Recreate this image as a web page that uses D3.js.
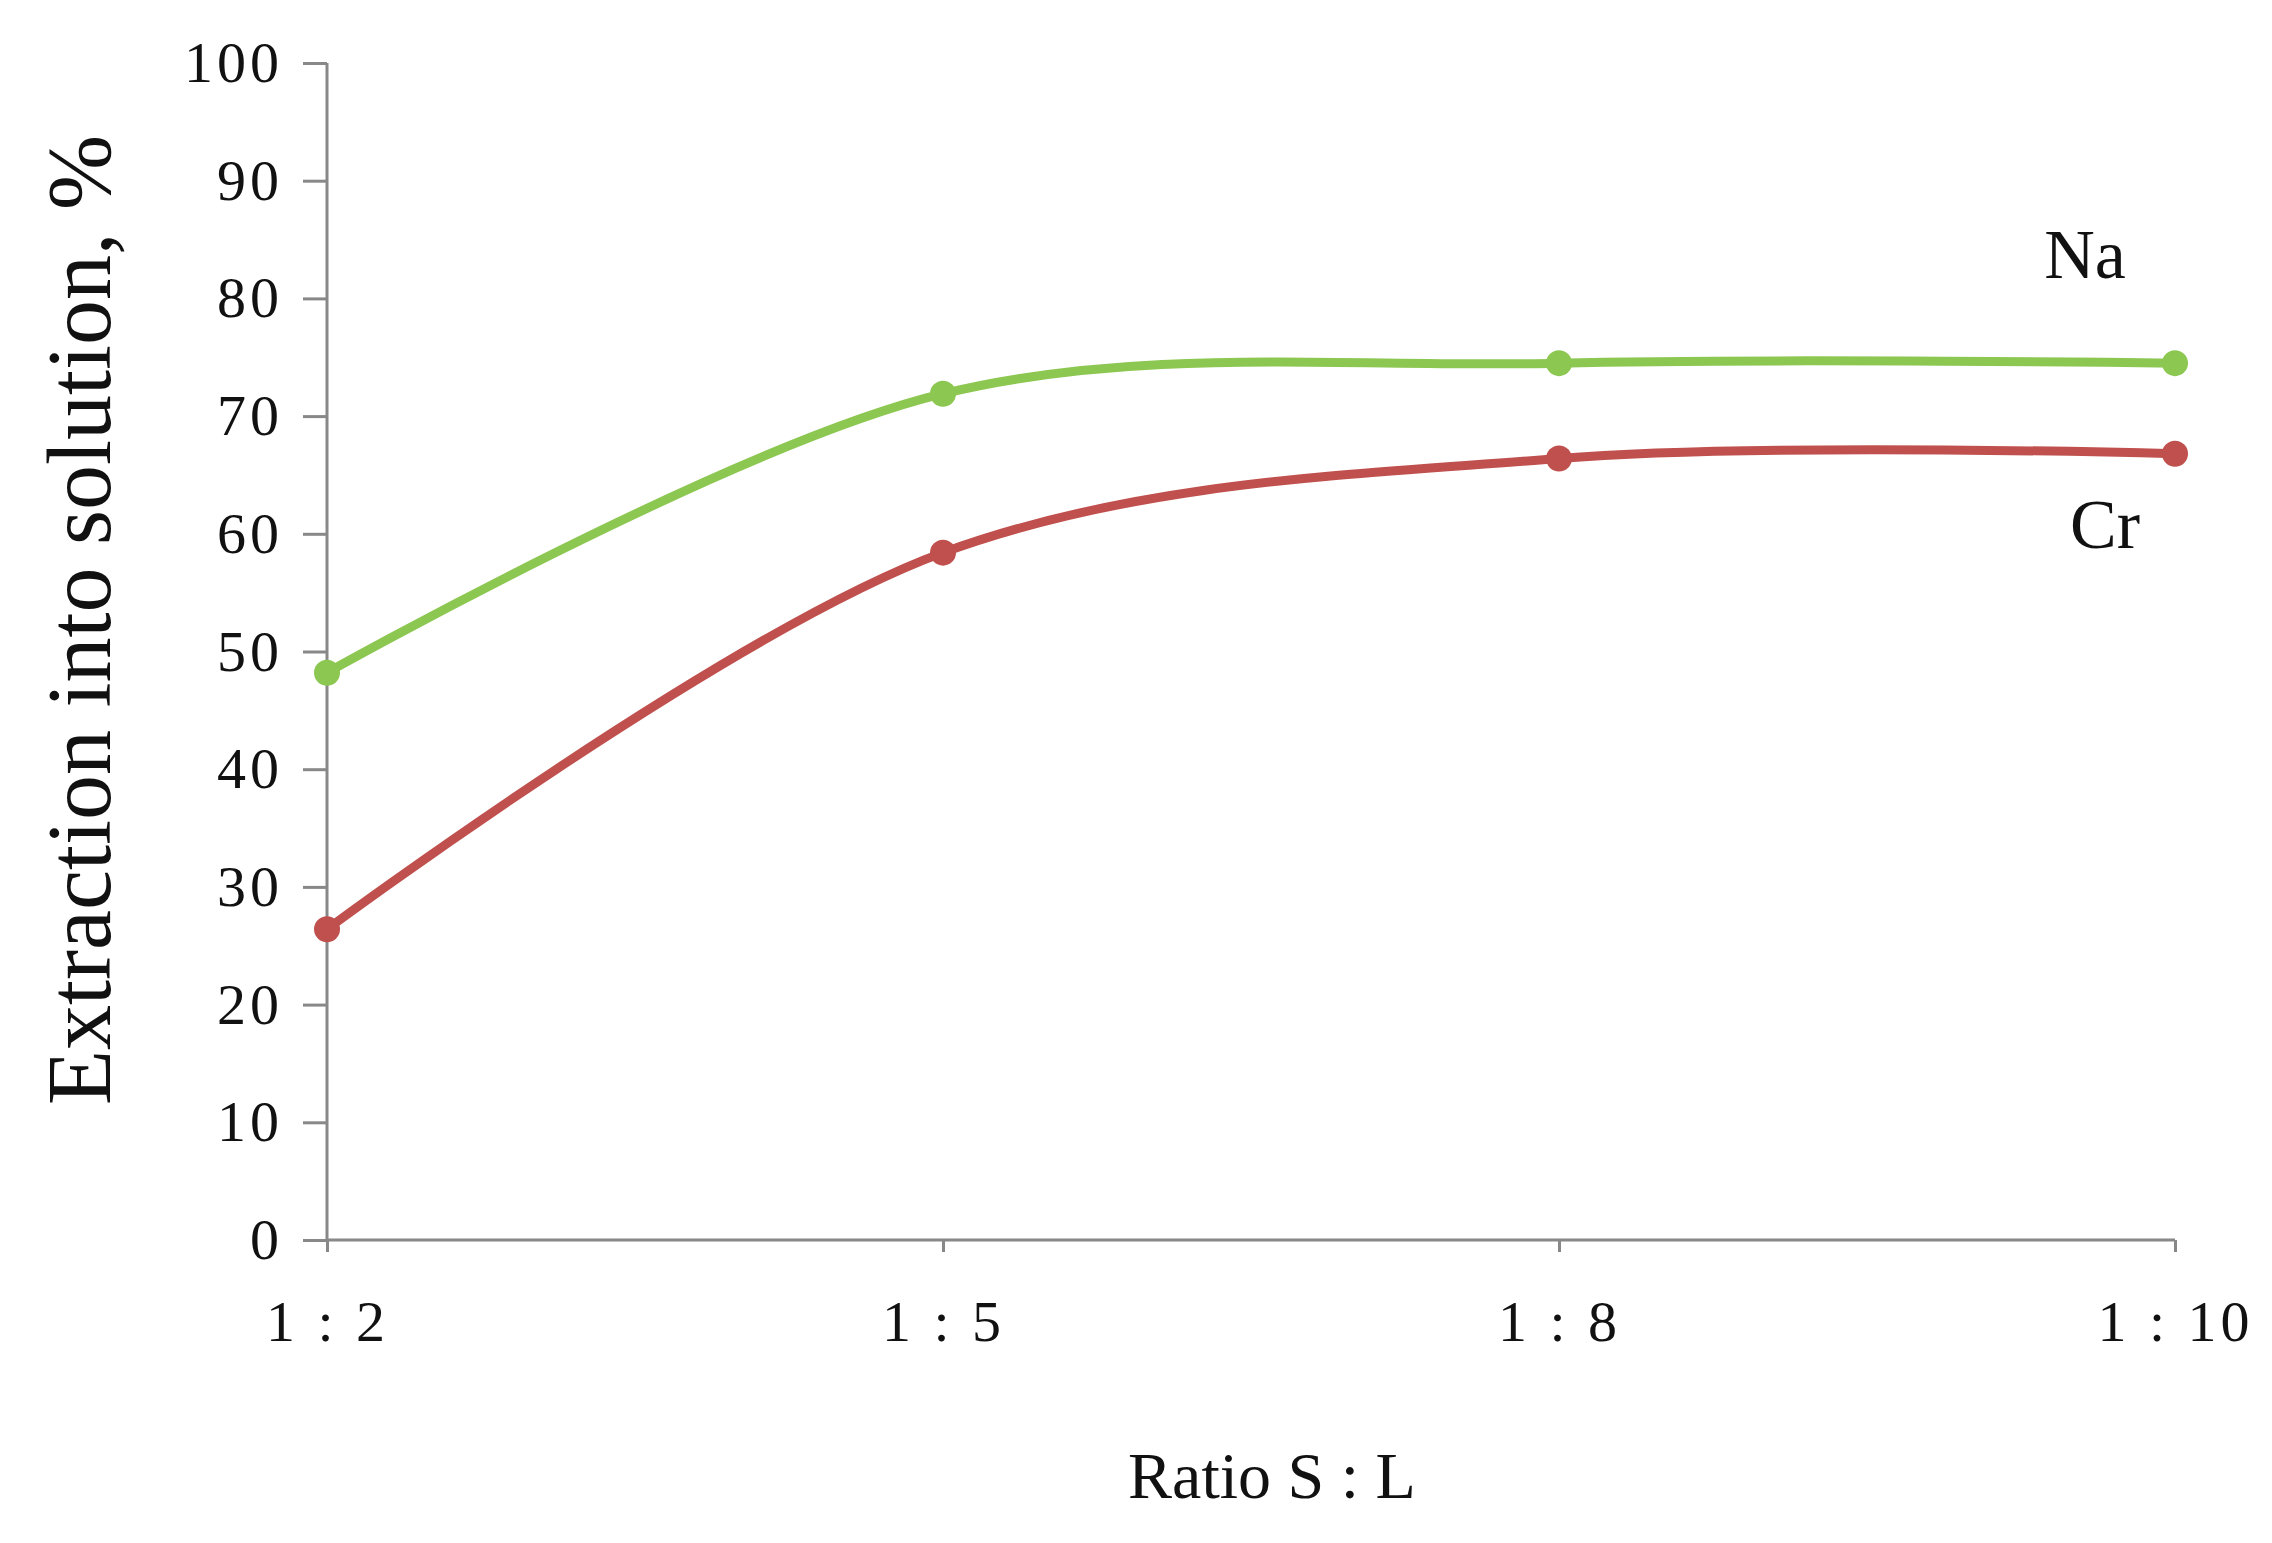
<!DOCTYPE html>
<html><head><meta charset="utf-8">
<script src="https://cdn.jsdelivr.net/npm/d3@7"></script>
<style>body{margin:0;background:#fff}</style></head>
<body><svg id="c" width="2272" height="1543"></svg>
<script>
const categories = ["1 : 2", "1 : 5", "1 :  8", "1 : 10"];
const naValues = [48.2, 71.9, 74.5, 74.5];
const crValues = [26.4, 58.4, 66.4, 66.8];
const yTicks = [0,10,20,30,40,50,60,70,80,90,100];

const svg = d3.select("#c");
const font = "'Liberation Serif', 'DejaVu Serif', serif";
const x = d3.scalePoint().domain(categories).range([327, 2175]);
const y = d3.scaleLinear().domain([0,100]).range([1240, 63]);

const yAxis = d3.axisLeft(y).tickValues(yTicks).tickSize(24).tickPadding(20);
const gy = svg.append("g").attr("transform","translate(327,0)").call(yAxis);
const xAxis = d3.axisBottom(x).tickSize(12).tickPadding(48);
const gx = svg.append("g").attr("transform","translate(0,1240)").call(xAxis);
[gx,gy].forEach(g=>{
  g.selectAll("path,line").attr("stroke","#888").attr("stroke-width",3);
  g.selectAll("text").attr("font-family",font).attr("font-size",58).attr("letter-spacing",4).attr("fill","#111");
});
gx.select(".domain").attr("d","M327,0H2175");
gy.select(".domain").attr("d","M0,63V1240");
gx.selectAll("text").attr("dy","0.71em");

const line = d3.line().x((d,i)=>x(categories[i])).y(d=>y(d)).curve(d3.curveCatmullRom.alpha(0.5));
const series = [{v:naValues,c:"#8cc751"},{v:crValues,c:"#c0504d"}];
series.forEach(s=>{
  svg.append("path").attr("d",line(s.v)).attr("fill","none").attr("stroke",s.c).attr("stroke-width",9);
  svg.selectAll(null).data(s.v).enter().append("circle")
    .attr("cx",(d,i)=>x(categories[i])).attr("cy",d=>y(d)).attr("r",13).attr("fill",s.c);
});

svg.append("text").attr("x",2085).attr("y",278).attr("text-anchor","middle")
  .attr("font-family",font).attr("font-size",70).attr("fill","#111").text("Na");
svg.append("text").attr("x",2105).attr("y",548).attr("text-anchor","middle")
  .attr("font-family",font).attr("font-size",70).attr("fill","#111").text("Cr");
svg.append("text").attr("x",1272).attr("y",1498).attr("text-anchor","middle")
  .attr("font-family",font).attr("font-size",66).attr("fill","#111").text("Ratio S : L");
svg.append("text").attr("transform","translate(110,620) rotate(-90)").attr("text-anchor","middle")
  .attr("font-family",font).attr("font-size",90).attr("fill","#111").text("Extraction into solution, %");
</script></body></html>
